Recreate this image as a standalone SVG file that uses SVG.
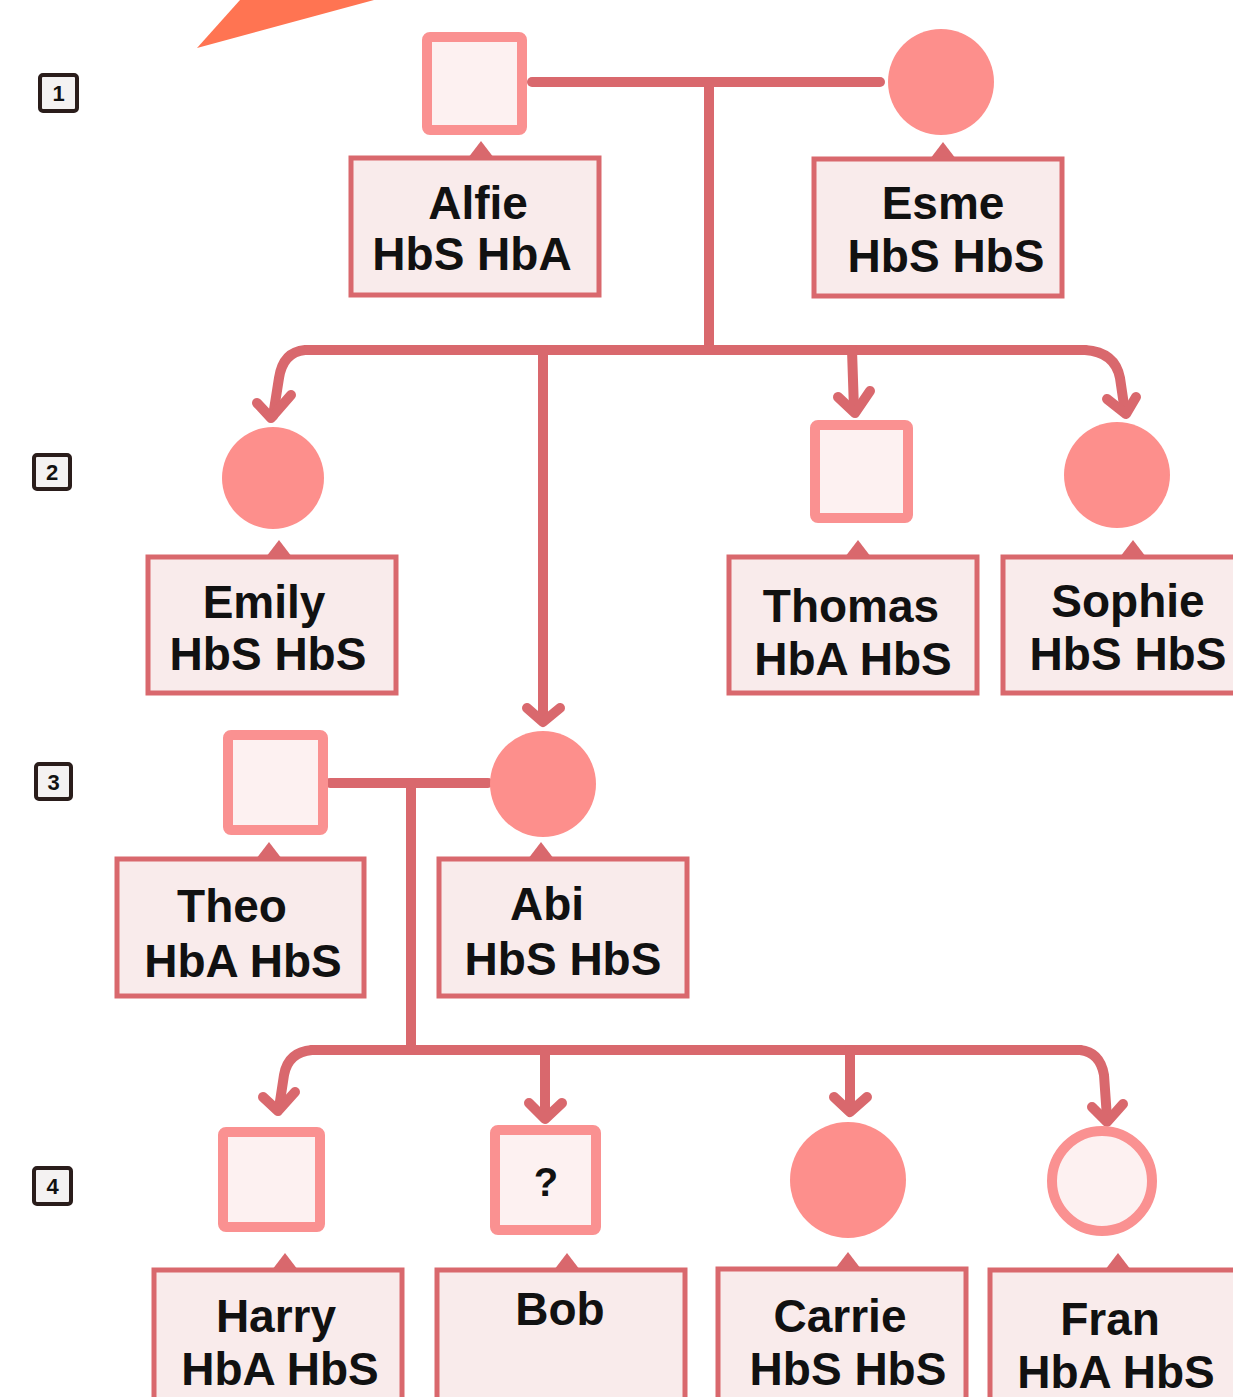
<svg xmlns="http://www.w3.org/2000/svg" width="1233" height="1397" viewBox="0 0 1233 1397">
<style>
.bg{fill:#ffffff}
.conn{fill:none;stroke:#d9686d;stroke-width:10;stroke-linecap:round;stroke-linejoin:round}
.sq{fill:#fdf1f1;stroke:#fa9191;stroke-width:10}
.cf{fill:#fd8f8c}
.co{fill:#fdf1f1;stroke:#fa9191;stroke-width:10}
.lb{fill:#f9ebeb;stroke:#d9686d;stroke-width:5}
.tip{fill:#d9686d}
.t{font-family:"Liberation Sans",Arial,sans-serif;font-weight:bold;font-size:46px;fill:#111;text-anchor:middle}
.gb{fill:#f4f2f2;stroke:#2a1d1b;stroke-width:4}
.gt{font-family:"Liberation Sans",Arial,sans-serif;font-weight:bold;font-size:22px;fill:#111;text-anchor:middle}
</style>
<rect class="bg" x="0" y="0" width="1233" height="1397"/>
<polygon points="197,48 240,0 374,0" fill="#ff7452"/>

<g id="generations">
<g id="gen1"><rect class="gb" x="40" y="75" width="37" height="36" rx="3"/><text class="gt" x="58.5" y="101">1</text></g>
<g id="gen2"><rect class="gb" x="34" y="455" width="36" height="34" rx="3"/><text class="gt" x="52" y="480">2</text></g>
<g id="gen3"><rect class="gb" x="36" y="764" width="35" height="35" rx="3"/><text class="gt" x="53.5" y="790">3</text></g>
<g id="gen4"><rect class="gb" x="34" y="1168" width="37" height="36" rx="3"/><text class="gt" x="52.5" y="1194">4</text></g>
</g>

<g id="connectors">
<path class="conn" d="M532 82 L880 82"/>
<path class="conn" d="M709 82 L709 350"/>
<path class="conn" d="M330 350 L1085 350"/>
<path class="conn" d="M330 350 L305 350 Q283 352 279 378 L273 416"/>
<path class="conn" d="M257 403 L271 418 L291 395"/>
<path class="conn" d="M543 350 L543 720"/>
<path class="conn" d="M527 708 L543 722 L560 708"/>
<path class="conn" d="M852 350 L854 410"/>
<path class="conn" d="M838 397 L855 413 L870 391"/>
<path class="conn" d="M1085 350 Q1115 352 1120 378 L1125 412"/>
<path class="conn" d="M1107 399 L1126 414 L1136 397"/>
<path class="conn" d="M330 783 L488 783"/>
<path class="conn" d="M411 783 L411 1050"/>
<path class="conn" d="M312 1050 L1080 1050"/>
<path class="conn" d="M312 1050 Q288 1052 284 1075 L279 1108"/>
<path class="conn" d="M263 1097 L278 1111 L295 1092"/>
<path class="conn" d="M545 1050 L545 1117"/>
<path class="conn" d="M529 1103 L545 1119 L562 1103"/>
<path class="conn" d="M850 1050 L850 1110"/>
<path class="conn" d="M834 1097 L850 1112 L867 1097"/>
<path class="conn" d="M1080 1050 Q1100 1052 1104 1075 L1107 1118"/>
<path class="conn" d="M1092 1107 L1107 1122 L1123 1104"/>
</g>

<g id="alfie">
<rect class="sq" x="427" y="37" width="95" height="93" rx="3"/>
<polygon class="tip" points="468,158 481,141 494,158"/>
<rect class="lb" x="351" y="158" width="248" height="137"/>
<text class="t" x="478" y="219">Alfie</text>
<text class="t" x="472" y="270">HbS HbA</text>
</g>
<g id="esme">
<circle class="cf" cx="941" cy="82" r="53"/>
<polygon class="tip" points="930,159 943,142 956,159"/>
<rect class="lb" x="814" y="159" width="248" height="137"/>
<text class="t" x="943" y="219">Esme</text>
<text class="t" x="946" y="272">HbS HbS</text>
</g>

<g id="emily">
<circle class="cf" cx="273" cy="478" r="51"/>
<polygon class="tip" points="266,557 279,540 292,557"/>
<rect class="lb" x="148" y="557" width="248" height="136"/>
<text class="t" x="264" y="618">Emily</text>
<text class="t" x="268" y="670">HbS HbS</text>
</g>
<g id="thomas">
<rect class="sq" x="815" y="425" width="93" height="93" rx="3"/>
<polygon class="tip" points="845,557 858,540 871,557"/>
<rect class="lb" x="729" y="557" width="248" height="136"/>
<text class="t" x="851" y="622">Thomas</text>
<text class="t" x="853" y="675">HbA HbS</text>
</g>
<g id="sophie">
<circle class="cf" cx="1117" cy="475" r="53"/>
<polygon class="tip" points="1120,557 1133,540 1146,557"/>
<rect class="lb" x="1003" y="557" width="250" height="136"/>
<text class="t" x="1128" y="617">Sophie</text>
<text class="t" x="1128" y="670">HbS HbS</text>
</g>

<g id="theo">
<rect class="sq" x="228" y="735" width="95" height="95" rx="3"/>
<polygon class="tip" points="256,859 269,842 282,859"/>
<rect class="lb" x="117" y="859" width="247" height="137"/>
<text class="t" x="232" y="922">Theo</text>
<text class="t" x="243" y="977">HbA HbS</text>
</g>
<g id="abi">
<circle class="cf" cx="543" cy="784" r="53"/>
<polygon class="tip" points="528,859 541,842 554,859"/>
<rect class="lb" x="439" y="859" width="248" height="137"/>
<text class="t" x="547" y="920">Abi</text>
<text class="t" x="563" y="975">HbS HbS</text>
</g>

<g id="harry">
<rect class="sq" x="223" y="1132" width="97" height="95" rx="3"/>
<polygon class="tip" points="272,1270 285,1253 298,1270"/>
<rect class="lb" x="154" y="1270" width="248" height="140"/>
<text class="t" x="276" y="1332">Harry</text>
<text class="t" x="280" y="1385">HbA HbS</text>
</g>
<g id="bob">
<rect class="sq" x="495" y="1130" width="101" height="100" rx="3"/>
<text class="t" x="546" y="1196" style="font-size:40px">?</text>
<polygon class="tip" points="554,1270 567,1253 580,1270"/>
<rect class="lb" x="437" y="1270" width="248" height="140"/>
<text class="t" x="560" y="1325">Bob</text>
</g>
<g id="carrie">
<circle class="cf" cx="848" cy="1180" r="58"/>
<polygon class="tip" points="835,1269 848,1252 861,1269"/>
<rect class="lb" x="718" y="1269" width="248" height="140"/>
<text class="t" x="840" y="1332">Carrie</text>
<text class="t" x="848" y="1385">HbS HbS</text>
</g>
<g id="fran">
<circle class="co" cx="1102" cy="1181" r="50"/>
<polygon class="tip" points="1105,1270 1118,1253 1131,1270"/>
<rect class="lb" x="990" y="1270" width="260" height="140"/>
<text class="t" x="1110" y="1335">Fran</text>
<text class="t" x="1116" y="1388">HbA HbS</text>
</g>
</svg>
